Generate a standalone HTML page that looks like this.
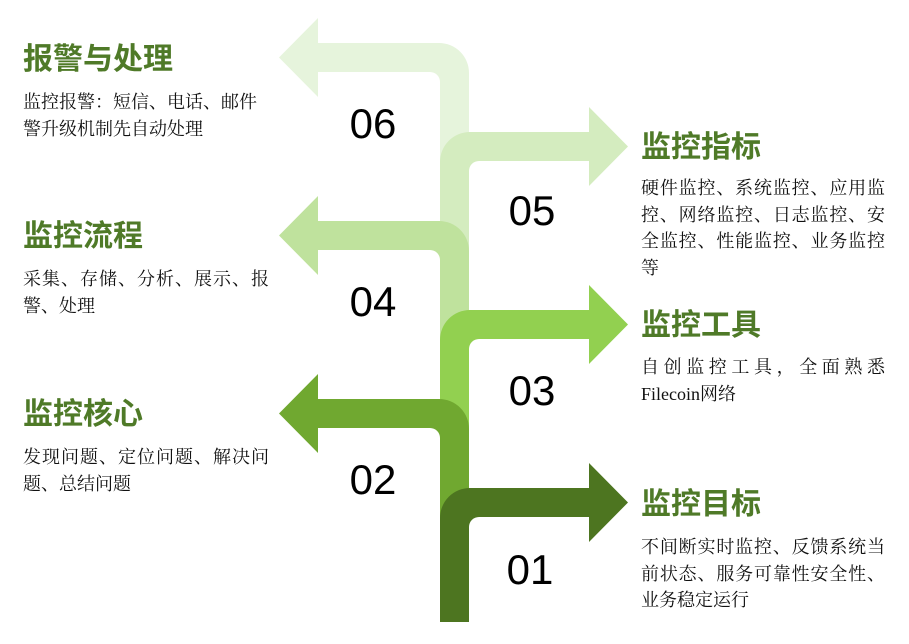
<!DOCTYPE html>
<html><head><meta charset="utf-8"><style>
body{margin:0;width:909px;height:644px;background:#fff;position:relative;overflow:hidden}
.t{position:absolute;font-family:"Liberation Sans","Noto Sans CJK SC",sans-serif;font-weight:bold;font-size:30px;line-height:34px;color:#4f7a28;white-space:nowrap}
.b{position:absolute;font-family:"Liberation Serif","Noto Serif CJK SC",serif;font-size:18px;line-height:26.5px;color:#111;text-align:justify;text-align-last:left;word-break:break-all}
.n{font-family:"Liberation Sans",sans-serif;font-size:42px;fill:#000}
</style></head><body>
<svg width="909" height="644" style="position:absolute;left:0;top:0">
<path fill="#e6f4dc" d="M469,622 L469,73 A30,30 0 0 0 439,43 L318,43 L318,18 L279,57.5 L318,97 L318,72 L430,72 A10,10 0 0 1 440,82 L440,622 Z"/>
<path fill="#d4ecbf" d="M440,622 L440,162 A30,30 0 0 1 470,132 L589,132 L589,107 L628,146.5 L589,186 L589,161 L479,161 A10,10 0 0 0 469,171 L469,622 Z"/>
<path fill="#bfe29d" d="M469,622 L469,251 A30,30 0 0 0 439,221 L318,221 L318,196 L279,235.5 L318,275 L318,250 L430,250 A10,10 0 0 1 440,260 L440,622 Z"/>
<path fill="#92d050" d="M440,622 L440,340 A30,30 0 0 1 470,310 L589,310 L589,285 L628,324.5 L589,364 L589,339 L479,339 A10,10 0 0 0 469,349 L469,622 Z"/>
<path fill="#70a830" d="M469,622 L469,429 A30,30 0 0 0 439,399 L318,399 L318,374 L279,413.5 L318,453 L318,428 L430,428 A10,10 0 0 1 440,438 L440,622 Z"/>
<path fill="#4d7520" d="M440,622 L440,518 A30,30 0 0 1 470,488 L589,488 L589,463 L628,502.5 L589,542 L589,517 L479,517 A10,10 0 0 0 469,527 L469,622 Z"/>
<text class="n" x="373" y="138" text-anchor="middle">06</text>
<text class="n" x="532" y="225" text-anchor="middle">05</text>
<text class="n" x="373" y="316" text-anchor="middle">04</text>
<text class="n" x="532" y="405" text-anchor="middle">03</text>
<text class="n" x="373" y="494" text-anchor="middle">02</text>
<text class="n" x="530" y="584" text-anchor="middle">01</text>
</svg>
<div class="t" style="left:23px;top:43px">报警与处理</div>
<div class="b" style="left:23px;top:89px;width:240px">监控报警：短信、电话、邮件<br>警升级机制先自动处理</div>
<div class="t" style="left:23px;top:220px">监控流程</div>
<div class="b" style="left:23px;top:266px;width:246px">采集、存储、分析、展示、报警、处理</div>
<div class="t" style="left:23px;top:398px">监控核心</div>
<div class="b" style="left:23px;top:444px;width:246px">发现问题、定位问题、解决问题、总结问题</div>
<div class="t" style="left:641px;top:131px">监控指标</div>
<div class="b" style="left:641px;top:175px;width:244px">硬件监控、系统监控、应用监控、网络监控、日志监控、安全监控、性能监控、业务监控等</div>
<div class="t" style="left:641px;top:309px">监控工具</div>
<div class="b" style="left:641px;top:354px;width:244px;word-break:normal">自创监控工具，全面熟悉 Filecoin网络</div>
<div class="t" style="left:641px;top:488px">监控目标</div>
<div class="b" style="left:641px;top:534px;width:244px">不间断实时监控、反馈系统当前状态、服务可靠性安全性、业务稳定运行</div>
</body></html>
